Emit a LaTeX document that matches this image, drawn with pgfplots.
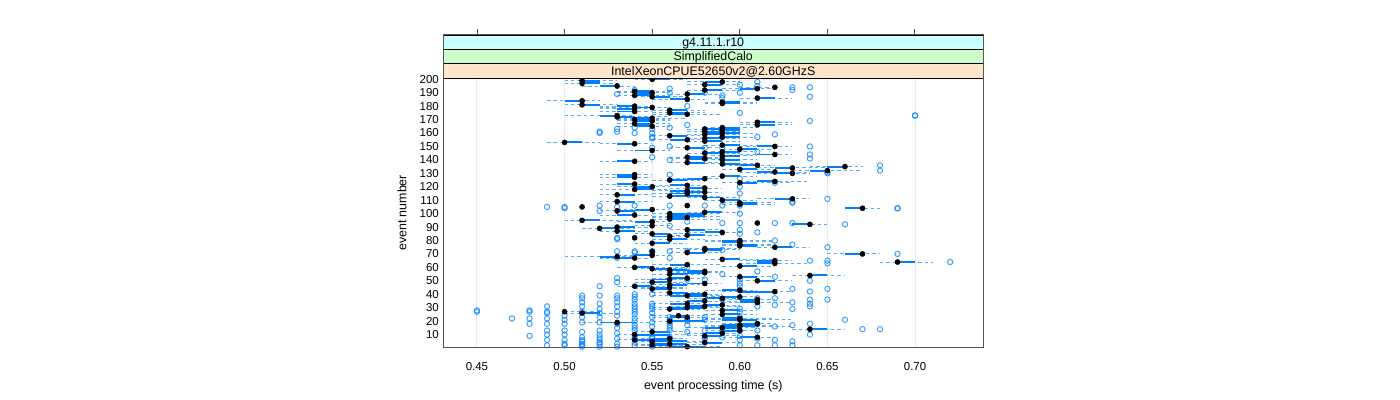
\documentclass[border=0pt]{standalone}
\usepackage{pgfplots}
\usepackage{pgfplotstable}
\usepackage{fontspec}
\setmainfont{Liberation Sans}
\pgfplotsset{compat=1.18}
\definecolor{bwblue}{HTML}{0080FF}
\definecolor{panelgrey}{HTML}{555555}
\definecolor{stripa}{HTML}{CCFFFF}
\definecolor{stripb}{HTML}{CCFFCC}
\definecolor{stripc}{HTML}{FFE5CC}
\pgfplotstableread{
n med q1 q3 lo hi
200 0.55 0.55 0.56 0.54 0.57
199 0.51 0.51 0.52 0.50 0.53
198 0.59 0.58 0.59 0.57 0.60
197 0.51 0.51 0.52 0.50 0.53
196 0.58 0.58 0.59 0.57 0.60
195 0.53 0.52 0.53 0.51 0.54
194 0.62 0.62 0.62 0.60 0.62
193 0.61 0.60 0.61 0.59 0.62
192 0.58 0.58 0.59 0.57 0.60
191 0.54 0.54 0.55 0.53 0.56
190 0.55 0.54 0.55 0.53 0.56
189 0.57 0.57 0.58 0.56 0.59
188 0.54 0.54 0.55 0.53 0.56
187 0.55 0.55 0.56 0.54 0.57
186 0.61 0.61 0.62 0.60 0.63
185 0.57 0.56 0.57 0.55 0.58
184 0.51 0.50 0.51 0.49 0.52
183 0.59 0.59 0.60 0.58 0.61
182 0.59 0.59 0.60 0.58 0.61
181 0.51 0.51 0.52 0.50 0.53
180 0.54 0.53 0.54 0.52 0.55
179 0.55 0.54 0.55 0.52 0.56
178 0.54 0.53 0.54 0.52 0.55
177 0.56 0.56 0.57 0.55 0.58
176 0.54 0.53 0.54 0.52 0.55
175 0.56 0.56 0.57 0.55 0.58
174 0.57 0.56 0.57 0.55 0.59
173 0.53 0.52 0.53 0.50 0.54
172 0.53 0.53 0.54 0.52 0.56
171 0.55 0.54 0.55 0.53 0.57
170 0.54 0.54 0.55 0.53 0.56
169 0.55 0.54 0.55 0.53 0.56
168 0.61 0.61 0.62 0.60 0.63
167 0.54 0.54 0.55 0.53 0.56
166 0.61 0.61 0.62 0.60 0.63
165 0.55 0.54 0.55 0.53 0.56
164 0.59 0.59 0.60 0.58 0.61
163 0.58 0.58 0.59 0.57 0.60
162 0.59 0.59 0.60 0.58 0.60
161 0.58 0.58 0.59 0.57 0.60
160 0.59 0.59 0.60 0.58 0.61
159 0.58 0.58 0.59 0.57 0.60
158 0.56 0.56 0.57 0.55 0.58
157 0.59 0.59 0.60 0.58 0.61
156 0.58 0.58 0.59 0.57 0.60
155 0.57 0.56 0.57 0.55 0.58
154 0.58 0.58 0.59 0.57 0.60
153 0.50 0.50 0.51 0.49 0.52
152 0.54 0.53 0.54 0.52 0.55
151 0.59 0.59 0.60 0.58 0.61
150 0.62 0.61 0.62 0.60 0.63
149 0.57 0.57 0.58 0.56 0.59
148 0.60 0.60 0.61 0.59 0.62
147 0.55 0.54 0.55 0.53 0.56
146 0.59 0.59 0.60 0.58 0.61
145 0.58 0.58 0.59 0.57 0.60
144 0.62 0.61 0.62 0.60 0.63
143 0.59 0.59 0.60 0.58 0.61
142 0.57 0.57 0.58 0.56 0.59
141 0.58 0.57 0.58 0.56 0.59
140 0.59 0.59 0.60 0.58 0.61
139 0.54 0.53 0.54 0.52 0.55
138 0.57 0.57 0.58 0.56 0.59
137 0.59 0.59 0.60 0.58 0.61
136 0.61 0.60 0.61 0.59 0.62
135 0.66 0.65 0.66 0.64 0.67
134 0.63 0.62 0.63 0.61 0.65
133 0.60 0.60 0.61 0.59 0.62
132 0.65 0.64 0.65 0.63 0.67
131 0.62 0.61 0.62 0.60 0.64
130 0.63 0.62 0.63 0.61 0.64
129 0.54 0.53 0.54 0.52 0.55
128 0.59 0.59 0.60 0.58 0.61
127 0.54 0.53 0.54 0.52 0.55
126 0.58 0.57 0.58 0.56 0.59
125 0.56 0.56 0.57 0.55 0.58
124 0.62 0.61 0.62 0.60 0.64
123 0.60 0.60 0.61 0.59 0.63
122 0.54 0.53 0.54 0.52 0.55
121 0.57 0.56 0.57 0.55 0.58
120 0.55 0.54 0.55 0.53 0.56
119 0.58 0.57 0.58 0.56 0.59
118 0.54 0.54 0.55 0.52 0.56
117 0.57 0.56 0.57 0.55 0.58
116 0.58 0.57 0.58 0.56 0.59
115 0.57 0.56 0.57 0.55 0.58
114 0.53 0.53 0.54 0.52 0.55
113 0.56 0.56 0.58 0.55 0.59
112 0.58 0.58 0.59 0.57 0.60
111 0.63 0.62 0.63 0.61 0.64
110 0.59 0.59 0.60 0.58 0.61
109 0.53 0.53 0.54 0.52 0.55
108 0.60 0.60 0.61 0.59 0.62
107 0.60 0.60 0.61 0.59 0.62
106 0.57 0.57 0.57 0.57 0.57
105 0.51 0.51 0.51 0.51 0.51
104 0.67 0.66 0.67 0.66 0.68
103 0.55 0.54 0.55 0.53 0.56
102 0.53 0.53 0.54 0.52 0.55
101 0.58 0.58 0.59 0.57 0.60
100 0.56 0.56 0.58 0.55 0.59
99 0.54 0.53 0.54 0.52 0.55
98 0.56 0.56 0.58 0.55 0.59
97 0.57 0.56 0.57 0.55 0.58
96 0.56 0.56 0.57 0.55 0.59
95 0.51 0.51 0.52 0.50 0.54
94 0.55 0.54 0.55 0.53 0.56
93 0.61 0.61 0.61 0.61 0.61
92 0.64 0.63 0.64 0.63 0.65
91 0.55 0.55 0.55 0.54 0.56
90 0.53 0.53 0.54 0.52 0.55
89 0.52 0.52 0.53 0.51 0.54
88 0.57 0.57 0.58 0.56 0.59
87 0.53 0.53 0.54 0.52 0.55
86 0.59 0.58 0.59 0.57 0.60
85 0.55 0.55 0.56 0.54 0.57
84 0.57 0.57 0.58 0.56 0.59
83 0.56 0.55 0.56 0.55 0.57
82 0.54 0.54 0.54 0.54 0.54
81 0.56 0.56 0.57 0.55 0.58
80 0.60 0.59 0.60 0.58 0.62
79 0.60 0.59 0.60 0.58 0.62
78 0.55 0.55 0.56 0.54 0.57
77 0.60 0.60 0.61 0.59 0.62
76 0.60 0.60 0.61 0.59 0.62
75 0.62 0.62 0.63 0.61 0.64
74 0.58 0.58 0.59 0.56 0.60
73 0.58 0.58 0.59 0.57 0.60
72 0.55 0.55 0.55 0.55 0.55
71 0.57 0.57 0.58 0.56 0.59
70 0.67 0.66 0.67 0.65 0.68
69 0.55 0.54 0.55 0.53 0.56
68 0.53 0.52 0.53 0.50 0.54
67 0.54 0.53 0.54 0.52 0.55
66 0.59 0.59 0.60 0.58 0.62
65 0.62 0.61 0.62 0.60 0.63
64 0.69 0.69 0.70 0.68 0.71
63 0.62 0.61 0.62 0.60 0.64
62 0.57 0.56 0.57 0.55 0.59
61 0.60 0.60 0.61 0.59 0.62
60 0.54 0.54 0.55 0.53 0.57
59 0.55 0.55 0.56 0.54 0.57
58 0.56 0.56 0.57 0.55 0.58
57 0.58 0.57 0.58 0.56 0.59
56 0.58 0.57 0.58 0.56 0.59
55 0.56 0.56 0.57 0.55 0.58
54 0.64 0.64 0.65 0.63 0.66
53 0.60 0.60 0.61 0.59 0.62
52 0.57 0.56 0.57 0.55 0.58
51 0.56 0.55 0.56 0.54 0.57
50 0.61 0.61 0.62 0.60 0.63
49 0.55 0.55 0.56 0.54 0.57
48 0.58 0.57 0.58 0.56 0.59
47 0.56 0.56 0.57 0.55 0.58
46 0.54 0.54 0.55 0.53 0.56
45 0.56 0.55 0.56 0.54 0.57
44 0.55 0.55 0.56 0.54 0.57
43 0.60 0.59 0.60 0.58 0.61
42 0.62 0.60 0.62 0.59 0.63
41 0.56 0.56 0.57 0.55 0.58
40 0.58 0.57 0.58 0.56 0.59
39 0.57 0.56 0.58 0.55 0.59
38 0.60 0.59 0.60 0.58 0.61
37 0.59 0.58 0.59 0.57 0.60
36 0.61 0.60 0.61 0.59 0.62
35 0.58 0.57 0.58 0.56 0.60
34 0.61 0.60 0.61 0.59 0.63
33 0.57 0.56 0.57 0.55 0.58
32 0.59 0.58 0.59 0.57 0.60
31 0.58 0.57 0.58 0.56 0.60
30 0.57 0.56 0.58 0.55 0.59
29 0.56 0.56 0.57 0.55 0.58
28 0.59 0.59 0.60 0.58 0.61
27 0.50 0.50 0.50 0.50 0.52
26 0.51 0.51 0.52 0.50 0.53
25 0.59 0.59 0.60 0.58 0.61
24 0.565 0.56 0.57 0.55 0.58
23 0.57 0.56 0.57 0.55 0.58
22 0.60 0.59 0.60 0.58 0.62
21 0.60 0.59 0.61 0.58 0.63
20 0.56 0.56 0.58 0.55 0.59
19 0.53 0.52 0.54 0.51 0.55
18 0.61 0.60 0.61 0.59 0.62
17 0.60 0.59 0.61 0.58 0.62
16 0.60 0.59 0.61 0.58 0.63
15 0.59 0.58 0.60 0.57 0.61
14 0.64 0.64 0.65 0.63 0.66
13 0.60 0.59 0.60 0.58 0.61
12 0.55 0.55 0.56 0.54 0.57
11 0.59 0.58 0.59 0.57 0.60
10 0.54 0.54 0.56 0.53 0.57
9 0.58 0.58 0.59 0.57 0.60
8 0.61 0.60 0.61 0.59 0.62
7 0.56 0.55 0.56 0.54 0.57
6 0.54 0.54 0.55 0.53 0.56
5 0.55 0.55 0.57 0.54 0.58
4 0.58 0.58 0.59 0.57 0.60
3 0.56 0.55 0.57 0.54 0.58
2 0.55 0.55 0.56 0.54 0.57
1 0.57 0.56 0.58 0.55 0.59
}\bwdata
\pgfplotstableread{
x y
0.45 28
0.45 27
0.47 22
0.48 28
0.48 27
0.48 22
0.48 18
0.48 9
0.49 105
0.49 31
0.49 27
0.49 26
0.49 22
0.49 18
0.49 13
0.49 10
0.49 6
0.49 2
0.50 105
0.50 104
0.50 24
0.50 21
0.50 18
0.50 13
0.50 10
0.50 6
0.50 3
0.50 2
0.51 39
0.51 37
0.51 34
0.51 31
0.51 27
0.51 23
0.51 19
0.51 12
0.51 8
0.51 6
0.51 5
0.51 3
0.51 2
0.51 1
0.52 106
0.52 102
0.52 161
0.52 160
0.52 46
0.52 39
0.52 33
0.52 29
0.52 26
0.52 23
0.52 19
0.52 13
0.52 10
0.52 8
0.52 6
0.52 4
0.52 3
0.52 1
0.53 189
0.53 163
0.53 161
0.53 105
0.53 82
0.53 81
0.53 72
0.53 67
0.53 52
0.53 49
0.53 39
0.53 37
0.53 34
0.53 31
0.53 27
0.53 24
0.53 18
0.53 15
0.53 11
0.53 7
0.53 3
0.53 1
0.54 192
0.54 164
0.54 160
0.54 72
0.54 71
0.54 106
0.54 40
0.54 38
0.54 36
0.54 33
0.54 31
0.54 29
0.54 27
0.54 25
0.54 22
0.54 20
0.54 17
0.54 15
0.54 13
0.54 9
0.54 7
0.54 4
0.54 2
0.55 163
0.55 160
0.55 157
0.55 156
0.55 149
0.55 142
0.55 72
0.55 71
0.55 40
0.55 33
0.55 31
0.55 29
0.55 26
0.55 23
0.55 19
0.55 16
0.55 8
0.55 7
0.55 4
0.55 1
0.56 193
0.56 190
0.56 164
0.56 150
0.56 140
0.56 129
0.56 106
0.56 91
0.56 72
0.56 67
0.56 23
0.56 21
0.56 19
0.56 17
0.56 15
0.56 13
0.56 8
0.56 6
0.56 2
0.57 180
0.57 166
0.57 94
0.57 72
0.57 60
0.57 51
0.57 22
0.57 20
0.57 17
0.57 12
0.58 190
0.58 149
0.58 141
0.58 106
0.58 51
0.58 23
0.58 21
0.58 13
0.58 8
0.58 7
0.59 188
0.59 186
0.59 157
0.59 149
0.59 141
0.59 106
0.59 93
0.59 73
0.59 55
0.59 36
0.59 12
0.59 8
0.60 196
0.60 190
0.60 175
0.60 126
0.60 120
0.60 115
0.60 106
0.60 100
0.60 93
0.60 88
0.60 85
0.60 51
0.60 48
0.60 46
0.60 43
0.60 29
0.60 27
0.60 23
0.60 13
0.60 9
0.60 6
0.60 2
0.61 198
0.61 195
0.61 157
0.61 146
0.61 86
0.61 57
0.61 37
0.61 34
0.61 31
0.61 18
0.61 13
0.61 7
0.61 2
0.62 159
0.62 123
0.62 93
0.62 80
0.62 53
0.62 37
0.62 32
0.62 16
0.62 6
0.62 2
0.63 194
0.63 192
0.63 109
0.63 108
0.63 93
0.63 77
0.63 44
0.63 34
0.63 29
0.63 17
0.63 5
0.63 2
0.64 194
0.64 187
0.64 169
0.64 150
0.64 144
0.64 141
0.64 65
0.64 50
0.64 42
0.64 36
0.64 33
0.64 31
0.64 18
0.64 10
0.65 131
0.65 130
0.65 111
0.65 75
0.65 65
0.65 63
0.65 44
0.65 36
0.66 92
0.66 21
0.67 14
0.68 136
0.68 132
0.68 14
0.69 104
0.69 104
0.69 70
0.70 173
0.70 173
0.72 64
}\outliers
\gdef\wcoords{}
\gdef\bcoords{}
\pgfplotsforeachungrouped \r in {0,...,199}{%
  \pgfplotstablegetelem{\r}{n}\of\bwdata\let\rn\pgfplotsretval
  \pgfplotstablegetelem{\r}{lo}\of\bwdata\let\rlo\pgfplotsretval
  \pgfplotstablegetelem{\r}{hi}\of\bwdata\let\rhi\pgfplotsretval
  \pgfplotstablegetelem{\r}{q1}\of\bwdata\let\rqa\pgfplotsretval
  \pgfplotstablegetelem{\r}{q3}\of\bwdata\let\rqb\pgfplotsretval
  \xdef\wcoords{\wcoords (\rlo,\rn) (\rhi,\rn) (nan,nan) }%
  \xdef\bcoords{\bcoords (\rqa,\rn) (\rqb,\rn) (nan,nan) }%
}
\begin{document}
\begin{tikzpicture}[font=\fontsize{9.3}{11}\selectfont]
\path[use as bounding box] (0pt,0pt) rectangle (1050pt,300pt);
\begin{axis}[
  at={(332.6pt,39.4pt)},anchor=south west,
  scale only axis,width=404.7pt,height=201.75pt,
  xmin=0.4309,xmax=0.7388,ymin=0.4,ymax=200.6,
  xtick={0.45,0.50,0.55,0.60,0.65,0.70},
  xticklabels={0.45,0.50,0.55,0.60,0.65,0.70},
  ytick={10,20,...,200},
  major tick length=0pt,
  xticklabel style={yshift=-7.5pt},
  axis line style={draw=panelgrey,line width=0.8pt},
  xmajorgrids,
  grid style={draw=black!9,line width=0.7pt},
  tick label style={font=\fontsize{8.6}{10}\selectfont},
  label style={font=\fontsize{9.3}{11}\selectfont},
  xlabel={event processing time (s)},
  ylabel={event number},
  xlabel style={yshift=-1pt},
  ylabel style={yshift=3pt},
  unbounded coords=jump,
  filter discard warning=false,
  /pgf/number format/assume math mode=true,
]
\edef\doplots{%
\noexpand\addplot[forget plot,mark=none,draw=bwblue!65,line width=0.7pt,dash pattern=on 2.6pt off 2.2pt] coordinates {\wcoords};
\noexpand\addplot[forget plot,mark=none,draw=bwblue,line width=1.45pt,solid] coordinates {\bcoords};
}
\doplots
\addplot[only marks,forget plot,mark=o,mark size=2pt,mark options={draw=bwblue,draw opacity=0.75,line width=0.75pt,fill=none}]
  table[x=x,y=y] {\outliers};
\addplot[only marks,forget plot,mark=*,mark size=1.9pt,mark options={draw=none,fill=black}]
  table[x=med,y=n] {\bwdata};
\end{axis}
\filldraw[fill=stripa,draw=black,line width=0.55pt] (332.6pt,263pt) rectangle (737.3pt,273.8pt);
\filldraw[fill=stripb,draw=black,line width=0.55pt] (332.6pt,252.1pt) rectangle (737.3pt,263pt);
\filldraw[fill=stripc,draw=black,line width=0.55pt] (332.6pt,241.15pt) rectangle (737.3pt,252.1pt);
\draw[draw=panelgrey,line width=0.8pt] (332.6pt,39.4pt) rectangle (737.3pt,273.8pt);
\foreach \tx in {357.75,423.4,489.1,554.75,620.4,686.1}{\draw[black!70,line width=0.55pt] (\tx pt,273.8pt) -- (\tx pt,278pt);}
\node[anchor=base] at (534.9pt,265.2pt) {g4.11.1.r10};
\node[anchor=base] at (534.9pt,254.4pt) {SimplifiedCalo};
\node[anchor=base] at (534.9pt,243.5pt) {IntelXeonCPUE52650v2@2.60GHzS};
\end{tikzpicture}
\end{document}
